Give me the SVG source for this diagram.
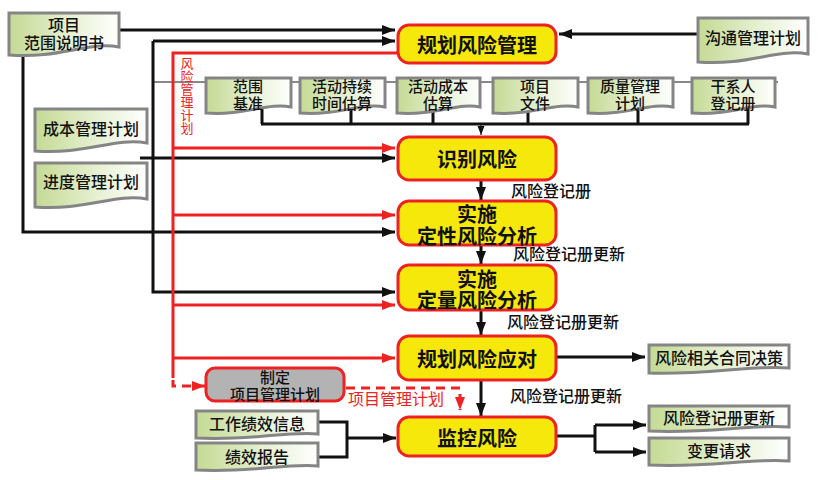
<svg xmlns="http://www.w3.org/2000/svg" width="827" height="480" viewBox="0 0 827 480">
<defs>
<linearGradient id="docg" x1="0" y1="0" x2="1" y2="0">
<stop offset="0" stop-color="#c4da94"/>
<stop offset="0.55" stop-color="#e6f0d2"/>
<stop offset="1" stop-color="#ffffff"/>
</linearGradient>
<marker id="ab" markerUnits="userSpaceOnUse" markerWidth="14" markerHeight="12" refX="13" refY="6" orient="auto">
<path d="M0,1 L13,6 L0,11 Z" fill="#111"/>
</marker>
<marker id="abs" markerUnits="userSpaceOnUse" markerWidth="10" markerHeight="8" refX="9" refY="4" orient="auto">
<path d="M0,0.5 L9,4 L0,7.5 Z" fill="#111"/>
</marker>
<marker id="ar" markerUnits="userSpaceOnUse" markerWidth="14" markerHeight="12" refX="13" refY="6" orient="auto">
<path d="M0,1 L13,6 L0,11 Z" fill="#ee2222"/>
</marker>
</defs>
<style>
.doc{fill:url(#docg);stroke:#858585;stroke-width:3}
.proc{fill:#f5e80a;stroke:#ee2222;stroke-width:3}
.pt{font-family:"Noto Sans CJK SC","Liberation Sans",sans-serif;font-size:20px;font-weight:bold;fill:#111;text-anchor:middle;dominant-baseline:central}
.dt{font-family:"Noto Sans CJK SC","Liberation Sans",sans-serif;font-size:16px;font-weight:500;fill:#111;text-anchor:middle;dominant-baseline:central}
.d2{font-family:"Noto Sans CJK SC","Liberation Sans",sans-serif;font-size:15px;font-weight:500;fill:#111;text-anchor:middle;dominant-baseline:central}
.lb{font-family:"Noto Sans CJK SC","Liberation Sans",sans-serif;font-size:16px;font-weight:500;fill:#111;dominant-baseline:central}
.rt{font-family:"Noto Sans CJK SC","Liberation Sans",sans-serif;font-size:16px;fill:#ee2222;dominant-baseline:central}
.rv{font-family:"Noto Sans CJK SC","Liberation Sans",sans-serif;font-size:13px;fill:#ee2222;writing-mode:vertical-rl}
.k{fill:none;stroke:#111;stroke-width:3}
.kt{fill:none;stroke:#111;stroke-width:1}
.r{fill:none;stroke:#ee2222;stroke-width:3}
.rd{fill:none;stroke:#ee2222;stroke-width:3;stroke-dasharray:9,6}
</style>
<g id="connectors">
<path class="kt" d="M153,82 H778"/>
<path class="k" d="M120,30 H395" marker-end="url(#ab)"/>
<path class="k" d="M153,41 H395" marker-end="url(#ab)"/>
<path class="k" d="M153,41 V292 H395" marker-end="url(#ab)"/>
<path class="k" d="M23,55 V232 H395" marker-end="url(#ab)"/>
<path class="k" d="M140,158 H395" marker-end="url(#ab)"/>
<path class="k" d="M262,108 V124 M351,108 V124 M433,108 V124 M528,108 V124 M638,108 V124 M748,108 V124 M261,124 H749"/>
<path class="kt" d="M481,124 V135" stroke-width="1.5" marker-end="url(#abs)"/>
<path class="k" d="M698,34 H559" marker-end="url(#ab)"/>
<path class="k" d="M481,181 V200" marker-end="url(#ab)"/>
<path class="k" d="M481,246 V264" marker-end="url(#ab)"/>
<path class="k" d="M481,311 V335" marker-end="url(#ab)"/>
<path class="k" d="M481,381 V416" marker-end="url(#ab)"/>
<path class="k" d="M557,357 H645" marker-end="url(#ab)"/>
<path class="k" d="M557,436 H595 M595,425 V452"/>
<path class="k" d="M595,425 H646" marker-end="url(#ab)"/>
<path class="k" d="M595,452 H646" marker-end="url(#ab)"/>
<path class="k" d="M318,422 H347 V457 H318"/>
<path class="k" d="M347,438 H396" marker-end="url(#ab)"/>
<path class="r" d="M398,53 H173 V378"/>
<path class="r" d="M173,148 H395" marker-end="url(#ar)"/>
<path class="r" d="M173,215 H395" marker-end="url(#ar)"/>
<path class="r" d="M173,305 H395" marker-end="url(#ar)"/>
<path class="r" d="M173,358 H395" marker-end="url(#ar)"/>
<path class="rd" d="M173,380 V386 H205" marker-end="url(#ar)"/>
<path class="rd" d="M346,388 H460 V410" marker-end="url(#ar)"/>
</g>
<g id="rmp-label">
<text class="rv" x="187" y="57">风险管理计划</text>
</g>
<g id="n-scope" transform="translate(9,13)">
<path class="doc" d="M0,0 H110 V34 C80,28 50,46 0,42 Z"/>
<text class="dt"><tspan x="55" y="11">项目</tspan><tspan x="55" y="29">范围说明书</tspan></text>
</g>
<g id="n-cost" transform="translate(35,109)">
<path class="doc" d="M0,0 H112 V34 C80,28 50,46 0,42 Z"/>
<text class="dt" x="56" y="19">成本管理计划</text>
</g>
<g id="n-sched" transform="translate(35,163)">
<path class="doc" d="M0,0 H112 V36 C80,30 50,48 0,44 Z"/>
<text class="dt" x="56" y="18">进度管理计划</text>
</g>
<g id="n-comm" transform="translate(698,18)">
<path class="doc" d="M0,0 H110 V36 C80,30 50,48 0,44 Z"/>
<text class="dt" x="55" y="19">沟通管理计划</text>
</g>
<g id="n-baseline" transform="translate(206,78)">
<path class="doc" d="M0,0 H85 V29 C62,24 38,38 0,35 Z"/>
<text class="d2"><tspan x="42" y="7">范围</tspan><tspan x="42" y="24">基准</tspan></text>
</g>
<g id="n-duration" transform="translate(300,78)">
<path class="doc" d="M0,0 H85 V29 C62,24 38,38 0,35 Z"/>
<text class="d2"><tspan x="42" y="7">活动持续</tspan><tspan x="42" y="24">时间估算</tspan></text>
</g>
<g id="n-costest" transform="translate(397,78)">
<path class="doc" d="M0,0 H83 V29 C62,24 38,38 0,35 Z"/>
<text class="d2"><tspan x="41" y="7">活动成本</tspan><tspan x="41" y="24">估算</tspan></text>
</g>
<g id="n-projdocs" transform="translate(493,78)">
<path class="doc" d="M0,0 H85 V29 C62,24 38,38 0,35 Z"/>
<text class="d2"><tspan x="42" y="7">项目</tspan><tspan x="42" y="24">文件</tspan></text>
</g>
<g id="n-quality" transform="translate(588,78)">
<path class="doc" d="M0,0 H85 V29 C62,24 38,38 0,35 Z"/>
<text class="d2"><tspan x="42" y="7">质量管理</tspan><tspan x="42" y="24">计划</tspan></text>
</g>
<g id="n-stake" transform="translate(692,78)">
<path class="doc" d="M0,0 H83 V29 C62,24 38,38 0,35 Z"/>
<text class="d2"><tspan x="41" y="7">干系人</tspan><tspan x="41" y="24">登记册</tspan></text>
</g>
<g id="p-plan">
<rect class="proc" x="398" y="25" width="158" height="38" rx="11"/>
<text class="pt" x="477" y="44">规划风险管理</text>
</g>
<g id="p-identify">
<rect class="proc" x="398" y="137" width="158" height="43" rx="11"/>
<text class="pt" x="477" y="158">识别风险</text>
</g>
<g id="p-qual">
<rect class="proc" x="398" y="201" width="158" height="44" rx="11"/>
<text class="pt"><tspan x="477" y="213">实施</tspan><tspan x="477" y="235">定性风险分析</tspan></text>
</g>
<g id="p-quant">
<rect class="proc" x="398" y="265" width="158" height="45" rx="11"/>
<text class="pt"><tspan x="477" y="278">实施</tspan><tspan x="477" y="299">定量风险分析</tspan></text>
</g>
<g id="p-response">
<rect class="proc" x="398" y="336" width="158" height="44" rx="11"/>
<text class="pt" x="477" y="358">规划风险应对</text>
</g>
<g id="p-monitor">
<rect class="proc" x="398" y="417" width="158" height="39" rx="11"/>
<text class="pt" x="477" y="437">监控风险</text>
</g>
<g id="p-pmplan">
<rect x="206" y="368" width="138" height="33" rx="9" fill="#b3b3b3" stroke="#ee2222" stroke-width="3"/>
<text class="d2"><tspan x="275" y="376">制定</tspan><tspan x="275" y="393">项目管理计划</tspan></text>
</g>
<g id="n-contract" transform="translate(649,345)">
<path class="doc" d="M0,0 H140 V23 C100,20 60,30 0,28 Z"/>
<text class="dt" x="70" y="12">风险相关合同决策</text>
</g>
<g id="n-regupd" transform="translate(649,406)">
<path class="doc" d="M0,0 H140 V21 C100,18 60,28 0,25 Z"/>
<text class="dt" x="70" y="11">风险登记册更新</text>
</g>
<g id="n-change" transform="translate(649,438)">
<path class="doc" d="M0,0 H140 V23 C100,20 60,30 0,27 Z"/>
<text class="dt" x="70" y="12">变更请求</text>
</g>
<g id="n-workinfo" transform="translate(196,411)">
<path class="doc" d="M0,0 H122 V23 C90,20 55,30 0,27 Z"/>
<text class="dt" x="61" y="12">工作绩效信息</text>
</g>
<g id="n-perfrep" transform="translate(196,443)">
<path class="doc" d="M0,0 H122 V23 C90,20 55,30 0,27 Z"/>
<text class="dt" x="61" y="13">绩效报告</text>
</g>
<g id="labels">
<text class="lb" x="511" y="190">风险登记册</text>
<text class="lb" x="513" y="253">风险登记册更新</text>
<text class="lb" x="507" y="321">风险登记册更新</text>
<text class="lb" x="510" y="395">风险登记册更新</text>
<text class="rt" x="348" y="398">项目管理计划</text>
</g>
</svg>
